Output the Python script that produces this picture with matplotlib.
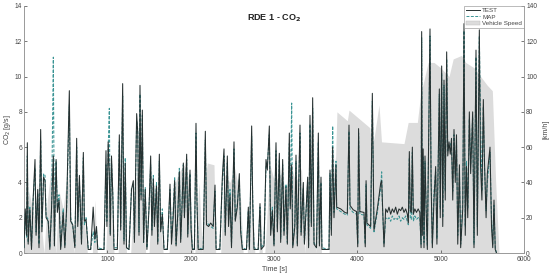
import matplotlib
matplotlib.use("Agg")
import matplotlib.pyplot as plt
from matplotlib.patches import Patch
from matplotlib.lines import Line2D

# ---------------- data ----------------
time_s = [
    0, 15, 30, 40, 50, 70, 90, 110, 132, 145, 165, 180, 200, 215, 235, 252, 265, 290, 310, 330,
    352, 365, 385, 400, 420, 440, 470, 490, 510, 544, 560, 585, 610, 632, 645, 665, 690, 712, 725, 745,
    770, 800, 830, 850, 870, 885, 960, 984, 995, 1010, 1024, 1035, 1050, 1065, 1080, 1120, 1144, 1160, 1184, 1200,
    1215, 1230, 1260, 1290, 1312, 1325, 1352, 1365, 1380, 1392, 1405, 1420, 1435, 1455, 1475, 1500, 1520, 1535, 1552, 1565,
    1590, 1605, 1624, 1640, 1660, 1680, 1720, 1752, 1770, 1790, 1808, 1825, 1845, 1864, 1880, 1895, 1912, 1925, 1952, 1965,
    1992, 2005, 2020, 2045, 2064, 2075, 2090, 2150, 2176, 2190, 2215, 2240, 2270, 2292, 2305, 2350, 2380, 2400, 2415, 2440,
    2455, 2472, 2490, 2520, 2535, 2560, 2584, 2600, 2620, 2670, 2692, 2705, 2732, 2745, 2760, 2810, 2832, 2845, 2880, 2904,
    2920, 2944, 2960, 2980, 3000, 3024, 3040, 3064, 3080, 3104, 3120, 3144, 3160, 3184, 3195, 3212, 3225, 3250, 3264, 3280,
    3312, 3325, 3352, 3365, 3404, 3415, 3432, 3448, 3464, 3480, 3510, 3532, 3545, 3564, 3575, 3660, 3672, 3688, 3704, 3720,
    3744, 3752, 3800, 3850, 3880, 3900, 3912, 3950, 3990, 4005, 4015, 4030, 4080, 4095, 4105, 4115, 4160, 4180, 4200, 4240,
    4280, 4292, 4300, 4320, 4340, 4360, 4380, 4400, 4420, 4440, 4460, 4480, 4500, 4520, 4540, 4560, 4580, 4600, 4612, 4624,
    4635, 4648, 4660, 4672, 4690, 4710, 4730, 4750, 4765, 4772, 4780, 4790, 4800, 4812, 4825, 4840, 4872, 4885, 4900, 4920,
    4940, 4955, 4984, 4995, 5012, 5025, 5040, 5055, 5072, 5085, 5100, 5115, 5130, 5145, 5160, 5175, 5190, 5205, 5225, 5240,
    5265, 5280, 5295, 5310, 5325, 5344, 5360, 5384, 5400, 5424, 5440, 5464, 5478, 5495, 5512, 5525, 5545, 5560, 5592, 5610,
    5625, 5640, 5655, 5670,
]

co2_test = [
    0.3, 2.5, 1.0, 6.25, 0.5, 2.5, 0.2, 3.1, 5.3, 1.0, 3.6, 0.3, 7.0, 1.2, 4.3, 4.1, 2.0, 1.8, 0.2, 2.5,
    5.5, 0.4, 5.3, 2.3, 3.0, 0.2, 2.3, 0.3, 2.4, 9.2, 1.8, 1.6, 0.3, 6.5, 1.5, 4.4, 0.5, 5.7, 1.8, 1.9,
    0.2, 0.2, 2.6, 0.8, 1.5, 0.2, 0.2, 5.8, 1.5, 6.3, 4.5, 1.0, 5.5, 3.4, 0.2, 0.2, 6.7, 1.3, 9.6, 0.5,
    5.1, 0.3, 0.2, 3.6, 4.1, 0.6, 7.9, 6.8, 1.0, 9.5, 3.0, 8.1, 0.6, 3.6, 0.2, 2.5, 5.5, 1.0, 4.2, 1.5,
    3.8, 0.5, 5.6, 1.2, 2.2, 0.2, 0.2, 3.9, 0.5, 2.0, 4.1, 0.4, 2.2, 4.6, 0.6, 2.4, 5.1, 2.0, 5.6, 0.9,
    4.7, 1.3, 0.2, 0.2, 7.35, 3.0, 0.2, 0.2, 6.9, 1.6, 1.5, 1.7, 1.5, 3.85, 0.2, 0.2, 4.3, 5.9, 1.0, 5.5,
    1.5, 3.3, 0.3, 6.3, 1.8, 2.6, 4.5, 1.2, 0.2, 0.2, 2.6, 0.2, 7.2, 2.8, 0.2, 0.2, 2.8, 0.2, 0.4, 5.3,
    4.7, 7.2, 1.0, 2.4, 0.4, 6.25, 1.2, 5.65, 0.6, 5.3, 1.0, 3.75, 0.5, 6.8, 2.5, 5.0, 0.3, 1.5, 5.55, 0.4,
    7.25, 1.0, 4.0, 0.5, 4.3, 0.3, 7.8, 1.5, 8.8, 0.5, 0.3, 6.8, 0.4, 4.3, 0.2, 0.2, 4.7, 1.0, 6.0, 2.0,
    5.0, 2.6, 2.5, 2.3, 2.25, 7.25, 2.7, 2.45, 2.35, 0.35, 7.05, 2.35, 2.3, 0.35, 4.1, 1.7, 1.5, 9.05, 1.3, 2.5,
    3.95, 4.1, 3.0, 0.35, 2.5, 2.3, 2.6, 2.2, 2.5, 2.3, 2.6, 2.2, 2.5, 2.4, 2.6, 2.3, 2.5, 2.2, 1.7, 5.75,
    2.4, 2.3, 6.0, 2.2, 2.5, 2.3, 2.5, 2.3, 0.3, 12.55, 1.0, 5.9, 0.3, 5.5, 2.5, 0.2, 12.7, 4.0, 0.3, 3.0,
    4.9, 0.5, 9.3, 2.0, 10.6, 1.5, 9.8, 3.0, 11.4, 5.5, 6.3, 5.6, 6.5, 3.0, 7.0, 4.0, 6.7, 0.5, 5.0, 0.3,
    2.5, 13.0, 1.0, 4.9, 2.0, 8.0, 4.5, 8.0, 0.3, 11.5, 1.0, 12.65, 5.0, 3.0, 8.7, 5.3, 2.0, 4.5, 6.0, 1.5,
    0.3, 3.0, 0.2, 0.0,
]

co2_map = [
    0.3, 2.2, 0.9, 5.5, 0.6, 2.6, 0.3, 3.0, 4.8, 1.2, 3.4, 0.5, 6.4, 1.5, 4.5, 4.4, 2.1, 1.9, 0.3, 2.3,
    11.1, 0.5, 5.2, 2.6, 3.3, 0.3, 2.5, 0.4, 2.2, 8.4, 2.0, 1.5, 0.4, 6.0, 1.8, 4.0, 0.6, 5.4, 1.6, 2.0,
    0.3, 0.2, 1.2, 0.6, 1.3, 0.3, 0.2, 5.0, 1.8, 5.9, 8.2, 1.1, 5.2, 3.5, 0.3, 0.3, 6.3, 1.5, 8.9, 0.7,
    5.4, 0.3, 0.2, 3.7, 3.8, 0.8, 7.5, 7.0, 1.2, 9.0, 3.3, 7.8, 0.6, 3.7, 0.3, 2.6, 5.0, 1.3, 4.4, 1.7,
    4.0, 0.6, 5.2, 1.3, 2.5, 0.3, 0.2, 3.6, 0.8, 2.3, 4.3, 0.5, 2.0, 4.8, 0.8, 2.7, 5.0, 2.1, 5.3, 1.1,
    4.5, 1.5, 0.3, 0.2, 6.8, 3.2, 0.3, 0.2, 6.4, 1.8, 1.6, 1.5, 1.4, 3.5, 0.3, 0.2, 4.0, 5.5, 1.2, 5.1,
    1.8, 3.6, 0.4, 5.9, 1.9, 2.8, 4.2, 1.4, 0.3, 0.2, 2.4, 0.3, 6.6, 3.0, 0.3, 0.2, 2.6, 0.3, 0.5, 4.9,
    5.0, 6.7, 1.3, 2.6, 0.5, 5.8, 1.4, 5.3, 0.8, 5.0, 1.2, 3.9, 0.6, 6.2, 2.7, 8.5, 0.4, 1.7, 5.2, 0.5,
    6.8, 1.2, 3.7, 0.6, 4.0, 0.4, 7.3, 1.7, 8.2, 0.6, 0.3, 6.3, 0.5, 4.0, 0.3, 0.2, 4.5, 1.3, 7.2, 2.3,
    5.2, 2.5, 2.35, 2.2, 2.15, 6.9, 2.5, 2.3, 2.2, 0.5, 6.8, 2.2, 2.15, 0.5, 3.9, 1.6, 1.4, 8.6, 1.2, 2.3,
    3.7, 4.6, 2.8, 0.5, 2.0, 1.9, 2.0, 1.8, 2.1, 1.9, 2.0, 1.9, 2.1, 1.8, 2.0, 1.9, 2.1, 1.8, 1.6, 5.4,
    2.0, 1.9, 5.7, 1.8, 2.1, 1.9, 2.0, 2.0, 0.5, 12.2, 1.5, 5.5, 0.6, 5.2, 2.8, 0.4, 12.3, 4.5, 0.5, 3.5,
    4.6, 0.8, 9.0, 2.5, 10.2, 2.0, 9.5, 3.5, 11.0, 5.8, 6.0, 6.2, 6.0, 3.5, 6.7, 4.5, 6.3, 1.0, 4.6, 0.5,
    3.0, 12.6, 1.5, 5.2, 2.5, 7.6, 5.0, 7.7, 0.5, 11.1, 1.5, 12.3, 7.5, 3.5, 8.3, 5.0, 2.4, 4.0, 5.7, 2.0,
    0.5, 2.7, 0.3, 0.0,
]

speed_t = [
    0, 60, 120, 160, 240, 280, 330, 380, 420, 470, 520, 600, 640, 700, 760, 820, 850, 880, 980, 1020,
    1080, 1130, 1180, 1230, 1280, 1330, 1400, 1460, 1500, 1540, 1600, 1670, 1740, 1790, 1850, 1920, 1990, 2030, 2050, 2100,
    2140, 2170, 2200, 2280, 2300, 2360, 2400, 2470, 2530, 2600, 2630, 2680, 2700, 2720, 2730, 2770, 2820, 2840, 2860, 2890,
    2950, 3010, 3080, 3140, 3200, 3260, 3330, 3370, 3400, 3460, 3500, 3520, 3570, 3660, 3700, 3740, 3755, 3880, 3900, 4150,
    4170, 4200, 4260, 4290, 4560, 4610, 4720, 4760, 4850, 4920, 5000, 5060, 5100, 5150, 5250, 5300, 5400, 5480, 5560, 5620,
    5660, 5700,
]
speed_kmh = [
    0, 35, 20, 40, 0, 30, 50, 0, 35, 25, 45, 0, 40, 30, 0, 0, 30, 0, 0, 45,
    0, 0, 50, 0, 0, 40, 50, 0, 0, 40, 35, 0, 0, 35, 45, 50, 40, 0, 0, 40,
    0, 40, 51, 50, 0, 0, 45, 40, 48, 30, 0, 0, 30, 0, 40, 0, 0, 25, 0, 0,
    50, 40, 45, 35, 50, 40, 48, 0, 30, 50, 0, 40, 0, 0, 40, 55, 80, 75, 81, 71,
    60, 65, 84, 63, 62, 74, 74, 90, 108, 108, 105, 102, 100, 110, 112, 108, 105, 100, 95, 92,
    40, 0,
]

x_ticks = [1000, 2000, 3000, 4000, 5000, 6000]
co2_ticks = [0, 2, 4, 6, 8, 10, 12, 14]
speed_ticks = [0, 20, 40, 60, 80, 100, 120, 140]

# ---------------- plot ----------------
plt.rcParams['font.family'] = ['Liberation Sans', 'DejaVu Sans']
fig = plt.figure(figsize=(5.5, 2.78), dpi=100)
ax = fig.add_axes([24 / 550, 25 / 278, 500 / 550, 247 / 278])
ax2 = ax.twinx()

spine_c = '#9a9a9a'
txt_c = '#444444'

# speed fill on the secondary (drawn behind)
ax2.fill_between(speed_t, 0, speed_kmh, color='#dcdcdc', linewidth=0, zorder=1)
ax2.set_ylim(0, 140)
ax2.set_yticks(speed_ticks)
ax2.set_ylabel('[km/h]', fontsize=5, color=txt_c)
ax2.yaxis.set_label_coords(1.036, 0.5)

ax.set_zorder(ax2.get_zorder() + 1)
ax.patch.set_visible(False)

ax.plot(time_s, co2_map, color='#3a9494', linestyle=(0, (3, 1.5)), linewidth=0.75, zorder=3)
ax.plot(time_s, co2_test, color='#263030', linewidth=0.75, zorder=4)

ax.set_xlim(0, 6000)
ax.set_ylim(0, 14)
ax.set_xticks(x_ticks)
ax.set_yticks(co2_ticks)
ax.set_xlabel('Time [s]', fontsize=5, color=txt_c, labelpad=1.5)
ax.set_ylabel('CO$_2$ [g/s]', fontsize=5, color=txt_c)
ax.yaxis.set_label_coords(-0.023, 0.5)

for a in (ax, ax2):
    a.tick_params(direction='in', length=2.5, width=0.5, labelsize=4.8, colors=txt_c, pad=1.5)
    a.spines['top'].set_visible(False)
    for s in ('left', 'right', 'bottom'):
        a.spines[s].set_color(spine_c)
        a.spines[s].set_linewidth(0.6)
ax.tick_params(axis='x', pad=2.5)

ax.text(0.5, 0.975, 'RDE 1 - CO$_\\mathbf{2}$', transform=ax.transAxes, ha='center', va='top',
        fontsize=6.5, fontweight='bold', color='#222222')

handles = [
    Line2D([], [], color='#263030', linewidth=0.7),
    Line2D([], [], color='#3a9494', linestyle=(0, (3, 1.5)), linewidth=0.7),
    Patch(facecolor='#dcdcdc', edgecolor='#bbbbbb', linewidth=0.3),
]
leg = ax.legend(handles, ['TEST', 'MAP', 'Vehicle Speed'], loc='upper right', bbox_to_anchor=(1.0, 1.0),
                fontsize=4.5, frameon=True, fancybox=False, borderpad=0.3, labelspacing=0.15,
                handlelength=2.2, handletextpad=0.4, borderaxespad=0.0)
leg.get_frame().set_edgecolor('#888888')
leg.get_frame().set_linewidth(0.5)
for t in leg.get_texts():
    t.set_color(txt_c)

fig.savefig('out.png', dpi=100)
